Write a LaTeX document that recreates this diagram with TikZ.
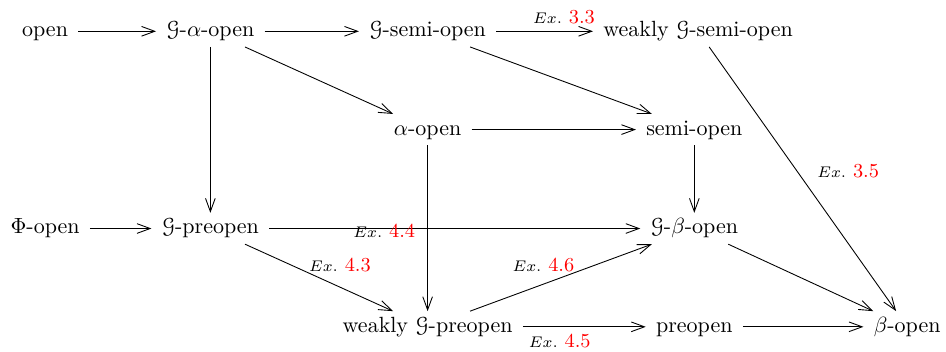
\documentclass[tikz,border=0pt]{standalone}
\usepackage{amsmath,amssymb}
\usepackage{eucal}
\usetikzlibrary{arrows.meta}

\begin{document}
\begin{tikzpicture}[
    cell/.style={inner xsep=4.5pt, inner ysep=2.5pt, text height=1.6ex, text depth=.45ex},
    arr/.style={draw, -{Straight Barb[length=6pt,width=4.4pt]}},
    lbl/.style={font=\small, inner sep=2pt}
]
\useasboundingbox (0,0) rectangle (15.11,-5.61);
% first row
\node[cell] (op) at (0.72,-0.50) {open};
\node[cell] (gao) at (3.36,-0.50) {$\mathcal{G}$-$\alpha$-open};
\node[cell] (gso) at (6.83,-0.50) {$\mathcal{G}$-semi-open};
\node[cell] (wgso) at (11.15,-0.50) {weakly $\mathcal{G}$-semi-open};
% second row
\node[cell] (ao) at (6.83,-2.07) {$\alpha$-open};
\node[cell] (so) at (11.09,-2.07) {semi-open};
% third row
\node[cell] (phio) at (0.72,-3.65) {$\Phi$-open};
\node[cell] (gpo) at (3.36,-3.65) {$\mathcal{G}$-preopen};
\node[cell] (gbo) at (11.09,-3.65) {$\mathcal{G}$-$\beta$-open};
% last row
\node[cell] (wgpo) at (6.83,-5.22) {weakly $\mathcal{G}$-preopen};
\node[cell] (po) at (11.09,-5.22) {preopen};
\node[cell] (bo) at (14.49,-5.22) {$\beta$-open};

\draw[arr] (op) -- (gao);
\draw[arr] (gao) -- (gso);
\draw[arr] (gso) -- node[lbl, pos=.7, above, yshift=1pt] {{\scriptsize$Ex.$} \textcolor{red}{3.3}} (wgso);
\draw[arr] (gao) -- (ao);
\draw[arr] (gso) -- (so);
\draw[arr] (ao) -- (so);
\draw[arr] (gao) -- (gpo);
\draw[arr] (ao) -- (wgpo);
\draw[arr] (so) -- (gbo);
\draw[arr] (wgso) -- node[lbl, pos=.47, right=7pt] {{\scriptsize$Ex.$} \textcolor{red}{3.5}} (bo);
\draw[arr] (phio) -- (gpo);
\draw[arr] (gpo) -- node[lbl, pos=.31, anchor=base, yshift=-4pt] {{\scriptsize$Ex.$} \textcolor{red}{4.4}} (gbo);
\draw[arr] (gpo) -- node[lbl, pos=.4, above right, yshift=-2.5pt] {{\scriptsize$Ex.$} \textcolor{red}{4.3}} (wgpo);
\draw[arr] (wgpo) -- node[lbl, pos=.6, above left, yshift=-2.5pt] {{\scriptsize$Ex.$} \textcolor{red}{4.6}} (gbo);
\draw[arr] (wgpo) -- node[lbl, pos=.3, below, yshift=-1pt] {{\scriptsize$Ex.$} \textcolor{red}{4.5}} (po);
\draw[arr] (po) -- (bo);
\draw[arr] (gbo) -- (bo);
\end{tikzpicture}
\end{document}
